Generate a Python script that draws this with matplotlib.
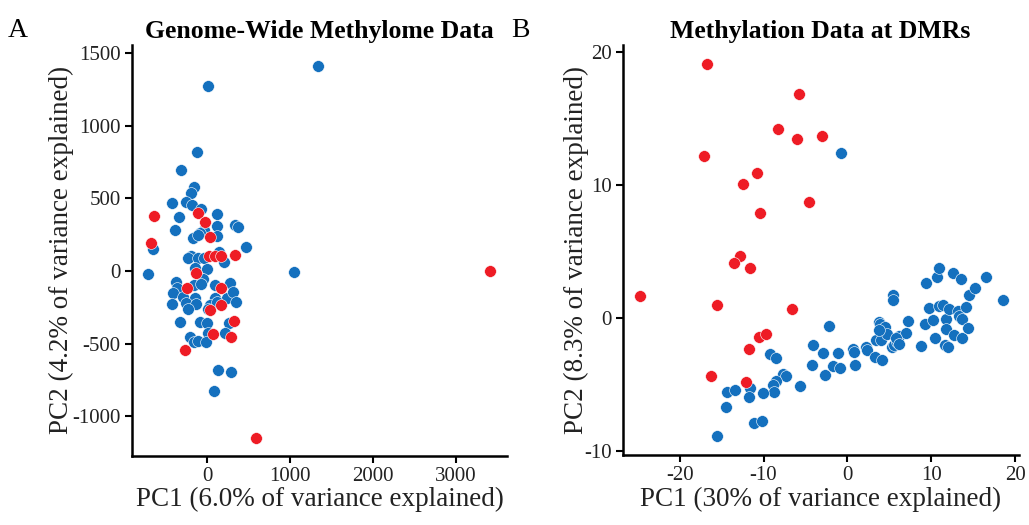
import numpy as np
import matplotlib
matplotlib.use("Agg")
import matplotlib.pyplot as plt

plt.rcParams['font.family'] = ['Liberation Serif', 'DejaVu Serif']
plt.rcParams['axes.unicode_minus'] = False

BLUE = '#1470BE'
RED = '#EE1C25'

# --- Panel A: genome-wide methylome PCA
a_blue_pc1 = [1342, 12, -121, -314, -157, -197, -427, -258, -189, -76, 114, -342, 339, 375,
              114, -394, -44, -88, 121, -169, -116, -657, 468, -197, -230, -109, -40, 145,
              202, -149, 0, -713, -48, -378, 274, -161, -80, 93, -370, -411, -290, -149,
              93, 235, 314, 347, -423, -258, -140, -230, 33, 114, 12, -330, -88, 0, 259,
              12, 214, -209, -161, -109, -16, 133, 287, 81, 1052]
a_blue_pc2 = [1413, 1275, 821, 695, 580, 535, 470, 477, 455, 425, 391, 374, 317, 305,
              310, 281, 283, 264, 241, 228, 248, 152, 168, 104, 88, 88, 88, 133,
              65, 19, 14, -20, -56, -73, -80, -96, -89, -96, -118, -153, -176, -187,
              -187, -187, -142, -210, -226, -221, -226, -263, -233, -210, -263, -352, -348, -359, -359,
              -424, -424, -455, -486, -479, -486, -680, -692, -825, -8]
a_red_pc1 = [-109, -641, -31, 33, -681, 21, 93, 162, 335, -140, -245, 162, 162, 33, 323,
             65, 287, -270, 585, 3418]
a_red_pc2 = [402, 379, 340, 232, 195, 104, 104, 104, 111, -15, -115, -114, -233, -268, -341,
             -433, -451, -543, -1150, 0]

# --- Panel B: methylation at DMRs
b_blue_pc1 = [-0.72, -9.19, -8.52, -4.05, -4.24, -7.73, -7.33, -8.52, -8.92, -8.72, -5.63,
              -14.38, -13.39, -11.57, -11.69, -10.11, -14.45, -11.09, -10.23, -15.52,
              -2.19, -2.9, -2.7, -1.08, -1.67, -0.91, 0.67, 0.79, 0.87, 2.25, 2.29, 3.28,
              4.07, 3.36, 3.95, 3.75, 3.87, 4.47, 4.74, 5.27, 5.54, 5.93, 6.13, 7.0, 7.24,
              5.46, 5.46, 8.78, 9.22, 9.3, 9.77, 10.17, 10.37, 10.68, 10.88, 10.96, 11.35,
              11.67, 11.98, 11.79, 11.79, 12.15, 12.54, 12.66, 13.17, 13.33, 13.53, 13.65,
              13.65, 14.16, 14.36, 14.44, 15.15, 16.5, 18.48, 3.75, 5.78, 6.13]
b_blue_pc2 = [12.38, -2.67, -2.97, -2.05, -3.5, -4.17, -4.37, -4.73, -5.0, -5.55, -5.12,
              -5.52, -5.42, -5.22, -5.9, -5.63, -6.68, -7.85, -7.73, -8.87,
              -0.57, -2.62, -4.3, -2.6, -3.62, -3.75, -2.3, -2.55, -3.55, -2.17, -2.42, -2.93,
              -3.17, -1.62, -1.67, -0.3, -0.47, -0.67, -1.17, -2.17, -2.05, -1.8, -1.37, -1.12, -0.22,
              1.75, 1.33, -2.1, -0.42, 2.63, 0.75, -0.12, -1.5, 3.08, 3.78, 0.88, 1.0,
              -2.0, -2.17, -0.05, -0.85, 0.7, 3.38, -1.25, 0.5, 0.15, 2.95, -1.5,
              -0.05, 0.83, -0.72, 1.7, 2.28, 3.08, 1.38, -0.92, -1.47, -1.97]
b_red_pc1 = [-16.76, -5.75, -8.28, -6.07, -2.98, -17.11, -10.77, -12.48, -4.64, -10.38,
             -12.76, -13.55, -11.57, -15.52, -6.62, -10.5, -9.7, -11.72, -16.32, -12.13, -24.67]
b_red_pc2 = [19.05, 16.83, 14.2, 13.46, 13.65, 12.18, 10.9, 10.08, 8.73, 7.91,
             4.65, 4.13, 3.73, 0.95, 0.7, -1.43, -1.17, -2.3, -4.32, -4.82, 1.63]


def style_axes(ax):
    for side in ['top', 'right']:
        ax.spines[side].set_visible(False)
    for side in ['left', 'bottom']:
        ax.spines[side].set_linewidth(1.8)
    ax.tick_params(direction='out', length=5, width=1.5, labelsize=15, colors='black',
                   labelcolor='#222222', pad=3)


fig = plt.figure(figsize=(10.29, 5.25), dpi=100)
ax1 = fig.add_axes([0.128, 0.132, 0.365, 0.782])
ax2 = fig.add_axes([0.605, 0.133, 0.385, 0.781])

kw = dict(s=72, edgecolors='white', linewidths=0.4, zorder=3)
ax1.scatter(a_blue_pc1, a_blue_pc2, color=BLUE, **kw)
ax1.scatter(a_red_pc1, a_red_pc2, color=RED, **kw)
ax1.set_xlim(-914, 3624)
ax1.set_ylim(-1270, 1555)
ax1.set_xticks([0, 1000, 2000, 3000])
ax1.set_yticks([-1000, -500, 0, 500, 1000, 1500])
style_axes(ax1)
ax1.set_xlabel('PC1 (6.0% of variance explained)', fontsize=19.5, color='#222222', labelpad=1)
ax1.set_ylabel('PC2 (4.2% of variance explained)', fontsize=19.5, color='#222222', labelpad=-1)
ax1.set_title('Genome-Wide Methylome Data', fontsize=18.5, fontweight='bold', pad=5)

ax2.scatter(b_blue_pc1, b_blue_pc2, color=BLUE, **kw)
ax2.scatter(b_red_pc1, b_red_pc2, color=RED, **kw)
ax2.set_xlim(-26.8, 20.4)
ax2.set_ylim(-10.3, 20.5)
ax2.set_xticks([-20, -10, 0, 10, 20])
ax2.set_yticks([-10, 0, 10, 20])
style_axes(ax2)
ax2.set_xlabel('PC1 (30% of variance explained)', fontsize=19.5, color='#222222', labelpad=1)
ax2.set_ylabel('PC2 (8.3% of variance explained)', fontsize=19.5, color='#222222', labelpad=-4)
ax2.set_title('Methylation Data at DMRs', fontsize=18.5, fontweight='bold', pad=5)

fig.text(0.008, 0.965, 'A', fontsize=20, va='top')
fig.text(0.497, 0.965, 'B', fontsize=20, va='top')

fig.savefig('out.png', dpi=100)
